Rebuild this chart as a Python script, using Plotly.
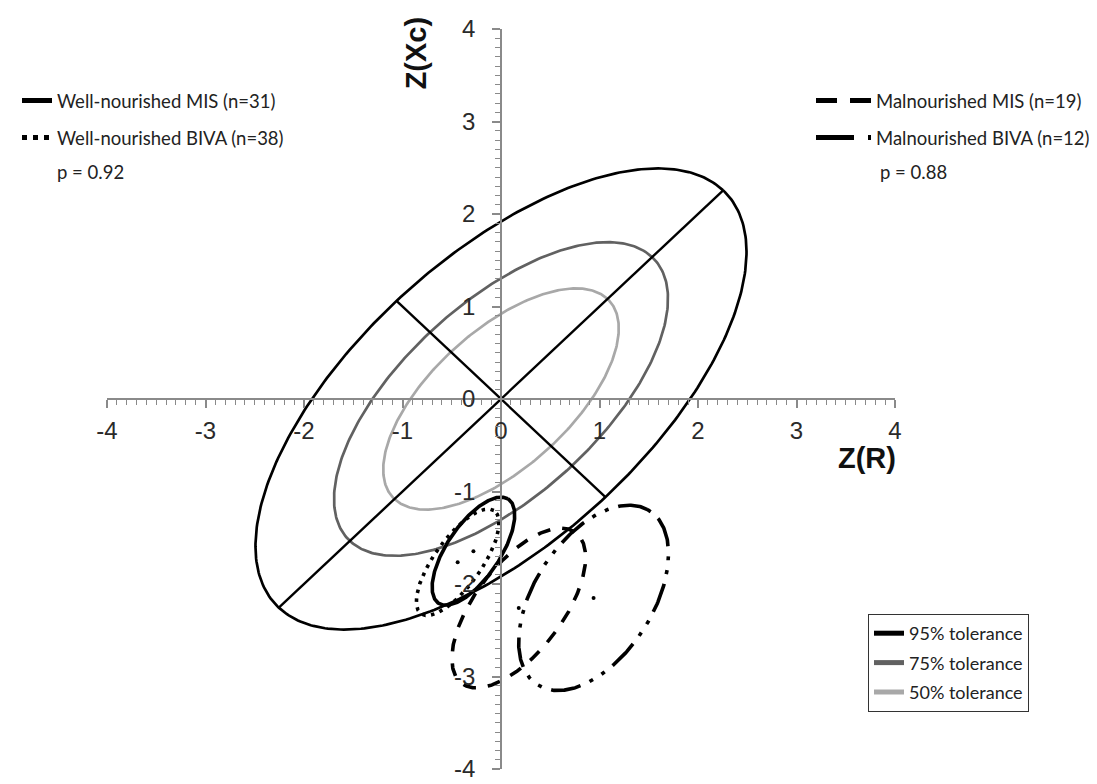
import numpy as np
import plotly.graph_objects as go

# ---------------- data ----------------
# reference tolerance ellipses (centred at origin, major axis along 45 deg)
tol_names = ["95% tolerance", "75% tolerance", "50% tolerance"]
tol_semi_major = [3.19, 2.17, 1.53]
tol_semi_minor = [1.50, 1.02, 0.72]
tol_angle_deg = 45.0

# group ellipses
grp_names = ["Well-nourished MIS (n=31)", "Well-nourished BIVA (n=38)",
             "Malnourished MIS (n=19)", "Malnourished BIVA (n=12)"]
grp_cx = [-0.28, -0.44, 0.18, 0.94]
grp_cy = [-1.645, -1.765, -2.26, -2.15]
grp_semi_major = [0.665, 0.669, 1.00, 1.10]
grp_semi_minor = [0.274, 0.244, 0.454, 0.61]
grp_angle_deg = [58.4, 56.7, 55.5, 60.2]

p_left = "p = 0.92"
p_right = "p = 0.88"

tick_vals = [-4, -3, -2, -1, 0, 1, 2, 3, 4]
tick_text = ["-4", "-3", "-2", "-1", "0", "1", "2", "3", "4"]

# ---------------- styles ----------------
tol_colors = ["#000000", "#616161", "#a8a8a8"]
grp_dash = ["solid", "3.5px,5.5px", "13px,12px", "30px,10px,4px,10px,4px,10px"]
grp_leg_dash = ["solid", "5px,6px", "21px,13px", "38px,14px,5px,30px"]
grp_legend = ["legend2", "legend2", "legend3", "legend3"]
TXT_FONT = "Lato, Open Sans, sans-serif"
AX_FONT = "Liberation Sans, Arial, sans-serif"
TXT_SIZE = 18.5
OFF = 8  # page body margin offset


def ellipse(cx, cy, a, b, ang_deg, n=361):
    t = np.linspace(0, 2 * np.pi, n)
    th = np.deg2rad(ang_deg)
    x = cx + a * np.cos(t) * np.cos(th) - b * np.sin(t) * np.sin(th)
    y = cy + a * np.cos(t) * np.sin(th) + b * np.sin(t) * np.cos(th)
    return x, y


fig = go.Figure()

# tolerance ellipses
for name, a, b, col in zip(tol_names, tol_semi_major, tol_semi_minor, tol_colors):
    x, y = ellipse(0, 0, a, b, tol_angle_deg)
    fig.add_trace(go.Scatter(x=x, y=y, mode="lines", line=dict(color=col, width=2.7),
                             showlegend=False, hoverinfo="skip"))

# axes of the 95% ellipse
th = np.deg2rad(tol_angle_deg)
a0, b0 = tol_semi_major[0], tol_semi_minor[0]
fig.add_trace(go.Scatter(x=[-a0 * np.cos(th), a0 * np.cos(th)], y=[-a0 * np.sin(th), a0 * np.sin(th)],
                         mode="lines", line=dict(color="black", width=2.4), showlegend=False, hoverinfo="skip"))
fig.add_trace(go.Scatter(x=[b0 * np.sin(th), -b0 * np.sin(th)], y=[-b0 * np.cos(th), b0 * np.cos(th)],
                         mode="lines", line=dict(color="black", width=2.4), showlegend=False, hoverinfo="skip"))

# group ellipses
for i in range(4):
    x, y = ellipse(grp_cx[i], grp_cy[i], grp_semi_major[i], grp_semi_minor[i], grp_angle_deg[i])
    fig.add_trace(go.Scatter(x=x, y=y, mode="lines",
                             line=dict(color="black", width=3.6, dash=grp_dash[i]),
                             showlegend=False, hoverinfo="skip"))
fig.add_trace(go.Scatter(x=grp_cx, y=grp_cy, mode="markers",
                         marker=dict(color="black", size=4), showlegend=False, hoverinfo="skip"))

# legend entries (tolerance)
for i, name in enumerate(tol_names):
    fig.add_trace(go.Scatter(x=[None], y=[None], mode="lines", name=name,
                             line=dict(color=tol_colors[i], width=5),
                             legend="legend", legendgroup="t%d" % i))
# legend entries (groups)
for i, name in enumerate(grp_names):
    fig.add_trace(go.Scatter(x=[None], y=[None], mode="lines", name=name,
                             line=dict(color="black", width=5, dash=grp_leg_dash[i]),
                             legend=grp_legend[i], legendgroup="g%d" % i))

axis_common = dict(
    range=[-4, 4], anchor="free", position=0.5, showgrid=False, zeroline=False,
    showline=True, linecolor="#8a8a8a", linewidth=1.5,
    ticks="outside", ticklen=8, tickwidth=1.5, tickcolor="#8a8a8a",
    tickvals=tick_vals, ticktext=tick_text,
    tickfont=dict(family=AX_FONT, size=24, color="#2a2a2a"),
    minor=dict(dtick=0.1, tick0=0, ticks="outside", ticklen=5, tickwidth=1, tickcolor="#8a8a8a"),
    fixedrange=True, automargin=False,
)

W, H = 1097, 784
PL, PR, PT, PB = 107 - OFF, 895 - OFF, 29 - OFF, 769 - OFF   # plot area in figure px


def cx_(px):
    return (px - OFF) / W


def cy_(py):
    return 1 - (py - OFF) / H


def px_paper(px):
    return (px - OFF - PL) / (PR - PL)


def py_paper(py):
    return (PB - (py - OFF)) / (PB - PT)


fig.update_layout(
    width=W, height=H,
    margin=dict(l=PL, r=W - PR, t=PT, b=H - PB, autoexpand=False),
    paper_bgcolor="white", plot_bgcolor="white",
    xaxis=dict(**axis_common, ticklabelstandoff=2),
    yaxis=dict(**axis_common, ticklabelstandoff=12),
    legend=dict(xref="container", yref="container", x=cx_(868), y=cy_(614),
                xanchor="left", yanchor="top", bordercolor="#333333", borderwidth=1,
                bgcolor="white", font=dict(family=TXT_FONT, size=18, color="#222222"),
                itemwidth=30, traceorder="grouped", tracegroupgap=3),
    legend2=dict(xref="container", yref="container", x=cx_(17), y=cy_(82),
                 xanchor="left", yanchor="top", borderwidth=0, bgcolor="rgba(0,0,0,0)",
                 font=dict(family=TXT_FONT, size=TXT_SIZE, color="#222222"),
                 itemwidth=30, traceorder="grouped", tracegroupgap=10),
    legend3=dict(xref="container", yref="container", x=cx_(811), y=cy_(82),
                 xanchor="left", yanchor="top", borderwidth=0, bgcolor="rgba(0,0,0,0)",
                 font=dict(family=TXT_FONT, size=TXT_SIZE, color="#222222"),
                 itemwidth=55, traceorder="grouped", tracegroupgap=10),
    annotations=[
        dict(text=p_left, xref="paper", yref="paper", x=px_paper(55), y=py_paper(172),
             xanchor="left", yanchor="middle", showarrow=False,
             font=dict(family=TXT_FONT, size=TXT_SIZE, color="#222222")),
        dict(text=p_right, xref="paper", yref="paper", x=px_paper(878), y=py_paper(172),
             xanchor="left", yanchor="middle", showarrow=False,
             font=dict(family=TXT_FONT, size=TXT_SIZE, color="#222222")),
        dict(text="<b>Z(Xc)</b>", xref="x", yref="y", x=-0.86, y=3.74, textangle=-90,
             showarrow=False, font=dict(family=AX_FONT, size=29, color="#111111")),
        dict(text="<b>Z(R)</b>", xref="x", yref="y", x=3.72, y=-0.64,
             showarrow=False, font=dict(family=AX_FONT, size=29, color="#111111")),
    ],
)

fig.write_html("out.html")
